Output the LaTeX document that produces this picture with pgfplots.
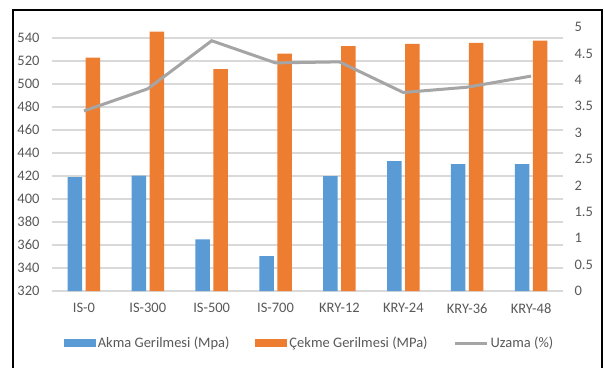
\documentclass[border=0pt]{standalone}
\usepackage{pgfplots}
\pgfplotsset{compat=1.18}
\usepackage{fontspec}
\setmainfont{Carlito}
\definecolor{akma}{HTML}{5B9BD5}
\definecolor{cekme}{HTML}{ED7D31}
\definecolor{uzama}{HTML}{A5A5A5}
\definecolor{gridc}{HTML}{D9D9D9}
\definecolor{txt}{HTML}{595959}

\begin{document}
\begin{tikzpicture}[x=1pt,y=1pt]
\useasboundingbox (0,0) rectangle (605,-367);
\fill[white] (0,0) rectangle (605,-367);
% outer frame
\draw[black, line width=2pt] (13,-380) -- (13,-9.5) -- (602,-9.5) -- (602,-380);

\begin{axis}[
  at={(52pt,-291pt)}, anchor=south west,
  scale only axis, width=511pt, height=264pt,
  ybar=3.5pt, bar width=14.5pt,
  xmin=-0.5, xmax=7.5, ymin=320, ymax=549.6,
  xtick={0,...,7},
  xticklabels={IS-0,IS-300,IS-500,IS-700,KRY-12,KRY-24,KRY-36,KRY-48},
  ytick={320,340,...,540},
  axis line style={draw=none},
  major tick length=0pt,
  ymajorgrids, grid style={gridc, line width=1.2pt},
  every tick label/.append style={font=\fontsize{14.5}{17}\selectfont, text=txt},
  /pgf/number format/assume math mode=true,
  yticklabel style={xshift=-9pt},
  xticklabel style={yshift=-9pt},
  legend columns=3,
  legend style={at={(0.504,-0.197)}, anchor=center, draw=none,
    font=\fontsize{14.5}{17}\selectfont, text=txt,
    /tikz/every even column/.append style={column sep=24pt}},
]
\addplot[fill=akma, draw=none,
  legend image code/.code={\fill[akma] (0pt,-4pt) rectangle (32pt,4pt);}]
  coordinates {(0,419) (1,420.3) (2,365) (3,350.4) (4,420) (5,433) (6,430.4) (7,430.4)};
\addlegendentry{Akma Gerilmesi (Mpa)}
\addplot[fill=cekme, draw=none,
  legend image code/.code={\fill[cekme] (0pt,-4pt) rectangle (32pt,4pt);}]
  coordinates {(0,523) (1,545.5) (2,513) (3,526.4) (4,533) (5,535) (6,535.7) (7,537.7)};
\addlegendentry{Çekme Gerilmesi (MPa)}
\addlegendimage{uzama, line width=3pt,
  legend image code/.code={\draw[uzama, line width=3pt] (0pt,0pt) -- (32pt,0pt);}}
\addlegendentry{Uzama (\%)}
\end{axis}

\begin{axis}[
  at={(52pt,-291pt)}, anchor=south west,
  scale only axis, width=511pt, height=264pt,
  xmin=-0.5, xmax=7.5, ymin=0, ymax=5,
  axis x line=none,
  axis y line*=right,
  axis line style={draw=none},
  major tick length=0pt,
  ytick={0,0.5,...,5},
  every tick label/.append style={font=\fontsize{14.5}{17}\selectfont, text=txt},
  /pgf/number format/assume math mode=true,
  yticklabel style={xshift=8pt},
]
\addplot[uzama, line width=3pt, no marks, sharp plot]
  coordinates {(0,3.41) (1,3.83) (2,4.74) (3,4.32) (4,4.34) (5,3.76) (6,3.86) (7,4.07)};
\end{axis}
\end{tikzpicture}
\end{document}
